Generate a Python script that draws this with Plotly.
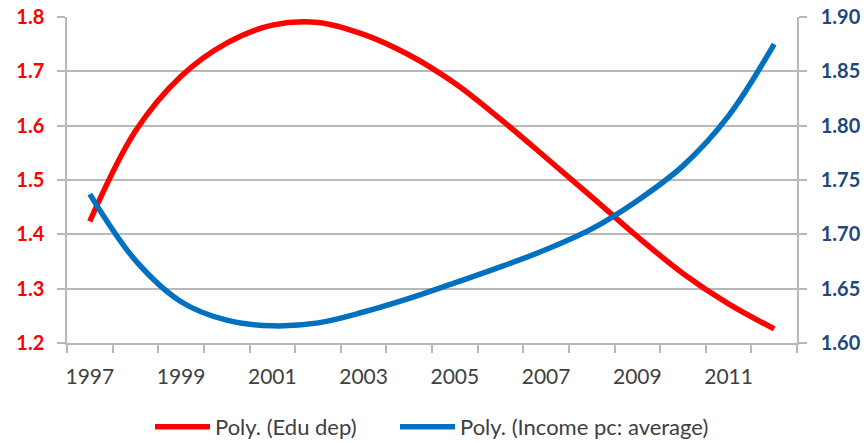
import plotly.graph_objects as go

years = list(range(1997, 2013))
edu_dep = [1.424, 1.590, 1.691, 1.752, 1.785, 1.790, 1.768, 1.730, 1.678, 1.612,
           1.541, 1.469, 1.396, 1.328, 1.272, 1.226]
income_pc = [1.737, 1.676, 1.638, 1.621, 1.6158, 1.6185, 1.6285, 1.641, 1.6553, 1.670,
             1.686, 1.705, 1.731, 1.763, 1.809, 1.875]
x_labels = [str(y) for y in range(1997, 2012, 2)]
left_ticks = [1.2, 1.3, 1.4, 1.5, 1.6, 1.7, 1.8]
right_ticks = [1.60, 1.65, 1.70, 1.75, 1.80, 1.85, 1.90]

FONT = "Lato"
GRID = "#B8B8B8"

fig = go.Figure()
fig.add_trace(go.Scatter(
    x=years, y=edu_dep, name="Poly. (Edu dep)", mode="lines",
    line=dict(color="#FF0000", width=5.5, shape="spline", smoothing=1.0),
    yaxis="y", legend="legend"))
fig.add_trace(go.Scatter(
    x=years, y=income_pc, name="Poly. (Income pc: average)", mode="lines",
    line=dict(color="#0070C0", width=5.5, shape="spline", smoothing=1.0),
    yaxis="y2", legend="legend2"))

leg_common = dict(orientation="h", xanchor="left", y=(343 - 427) / 326, yanchor="middle",
                  font=dict(family=FONT, size=22, color="#404040"),
                  itemwidth=55, bgcolor="rgba(0,0,0,0)")

fig.update_layout(
    width=867, height=443,
    margin=dict(l=67, r=70, t=17, b=100, autoexpand=False),
    paper_bgcolor="white", plot_bgcolor="white",
    font=dict(family=FONT, size=20, color="#404040"),
    showlegend=True,
    legend=dict(x=(150 - 67) / 730, **leg_common),
    legend2=dict(x=(395 - 67) / 730, **leg_common),
    xaxis=dict(
        range=[1996.5, 2012.5], automargin=False,
        tickmode="array", tickvals=[int(v) for v in x_labels], ticktext=x_labels,
        ticks="", showgrid=False, zeroline=False,
        showline=True, linecolor=GRID, linewidth=1.5,
        tickfont=dict(family=FONT, size=21, color="#404040"),
        ticklabelstandoff=14,
        minor=dict(ticks="outside", tick0=1996.5, dtick=1, ticklen=8,
                   tickcolor=GRID, tickwidth=1.5, showgrid=False),
    ),
    yaxis=dict(
        range=[1.2, 1.8], automargin=False, tickmode="array", tickvals=left_ticks,
        ticktext=[f"{v:.1f}" for v in left_ticks], ticklabeloverflow="allow",
        showgrid=True, gridcolor=GRID, gridwidth=1.5, zeroline=False,
        showline=True, linecolor=GRID, linewidth=1.5,
        ticks="outside", ticklen=8, tickcolor=GRID, tickwidth=1.5,
        tickfont=dict(family=FONT, size=20, color="#FF0000", weight="bold"),
        ticklabelstandoff=9,
    ),
    yaxis2=dict(
        range=[1.60, 1.90], automargin=False, tickmode="array", tickvals=right_ticks,
        ticktext=[f"{v:.2f}" for v in right_ticks], ticklabeloverflow="allow",
        overlaying="y", side="right", showgrid=False, zeroline=False,
        showline=True, linecolor=GRID, linewidth=1.5,
        ticks="outside", ticklen=8, tickcolor=GRID, tickwidth=1.5,
        tickfont=dict(family=FONT, size=20, color="#1F497D", weight="bold"),
        ticklabelstandoff=10,
    ),
)

# remove the browser's default 8px body margin so the figure fills the window
fig.write_html("out.html", config={"displayModeBar": False},
               post_script="document.body.style.margin='0';")
